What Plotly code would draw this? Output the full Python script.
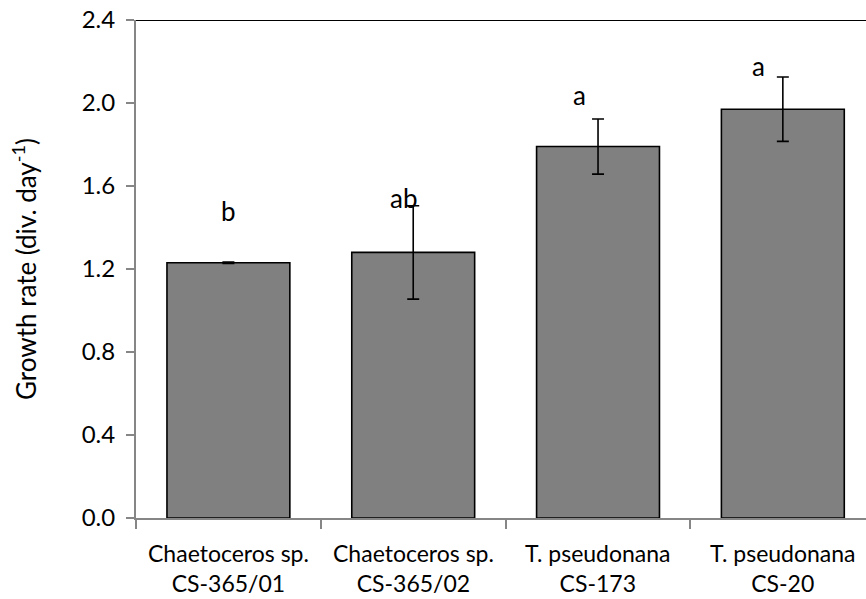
import plotly.graph_objects as go

# Strains and their mean growth rates with standard deviations
strains = ["Chaetoceros sp.<br>CS-365/01", "Chaetoceros sp.<br>CS-365/02",
           "T. pseudonana<br>CS-173", "T. pseudonana<br>CS-20"]
growth = [1.23, 1.28, 1.79, 1.97]
sd = [0.003, 0.225, 0.133, 0.155]
groups = ["b", "ab", "a", "a"]
group_y = [1.48, 1.54, 2.04, 2.18]
y_ticks = [0.0, 0.4, 0.8, 1.2, 1.6, 2.0, 2.4]

FONT = "Lato"
x_idx = list(range(len(strains)))

fig = go.Figure()
fig.add_trace(go.Bar(
    x=x_idx, y=growth, width=0.665,
    marker=dict(color="#808080", line=dict(color="black", width=1.6)),
    error_y=dict(type="data", array=sd, visible=True, color="black",
                 thickness=1.6, width=6),
    showlegend=False,
))

# significance letters, nudged left of the bar centres
letter_x = [0.0, 0.95, 1.9, 2.87]
for lx, ly, txt in zip(letter_x, group_y, groups):
    fig.add_annotation(x=lx, y=ly, text=txt, showarrow=False,
                       font=dict(family=FONT, size=26, color="black"),
                       xanchor="center", yanchor="middle")

# two-line category labels under the axis
for i, lab in enumerate(strains):
    fig.add_annotation(x=i, y=0, yref="y", text=lab, showarrow=False,
                       yshift=-19, yanchor="top", align="center",
                       font=dict(family=FONT, size=23, color="black"))

# black line closing the top of the plot
fig.add_shape(type="line", xref="paper", yref="y", x0=0, x1=1, y0=2.4, y1=2.4,
              line=dict(color="black", width=2))

fig.update_layout(
    width=866, height=599,
    margin=dict(l=136, r=0, t=20, b=81),
    plot_bgcolor="white", paper_bgcolor="white",
    font=dict(family=FONT, size=23, color="black"),
)
fig.update_xaxes(
    range=[-0.5, 3.45], tickmode="array", tickvals=[-0.5, 0.5, 1.5, 2.5, 3.5],
    showticklabels=False, ticks="outside", ticklen=9, tickwidth=2,
    tickcolor="#868686", showline=True, linecolor="#868686", linewidth=2,
    showgrid=False, zeroline=False, fixedrange=True,
)
fig.update_yaxes(
    range=[0, 2.4], tickmode="array", tickvals=y_ticks,
    ticktext=[f"{v:.1f}" for v in y_ticks], ticks="outside", ticklen=8,
    tickwidth=2, tickcolor="#868686", showline=True, linecolor="#868686",
    linewidth=2, showgrid=False, zeroline=False, ticklabelstandoff=6,
    title=dict(text="Growth rate (div. day<sup>-1</sup>)", standoff=38,
               font=dict(family=FONT, size=26)),
    tickfont=dict(family=FONT, size=24),
)

fig.write_html("out.html")
